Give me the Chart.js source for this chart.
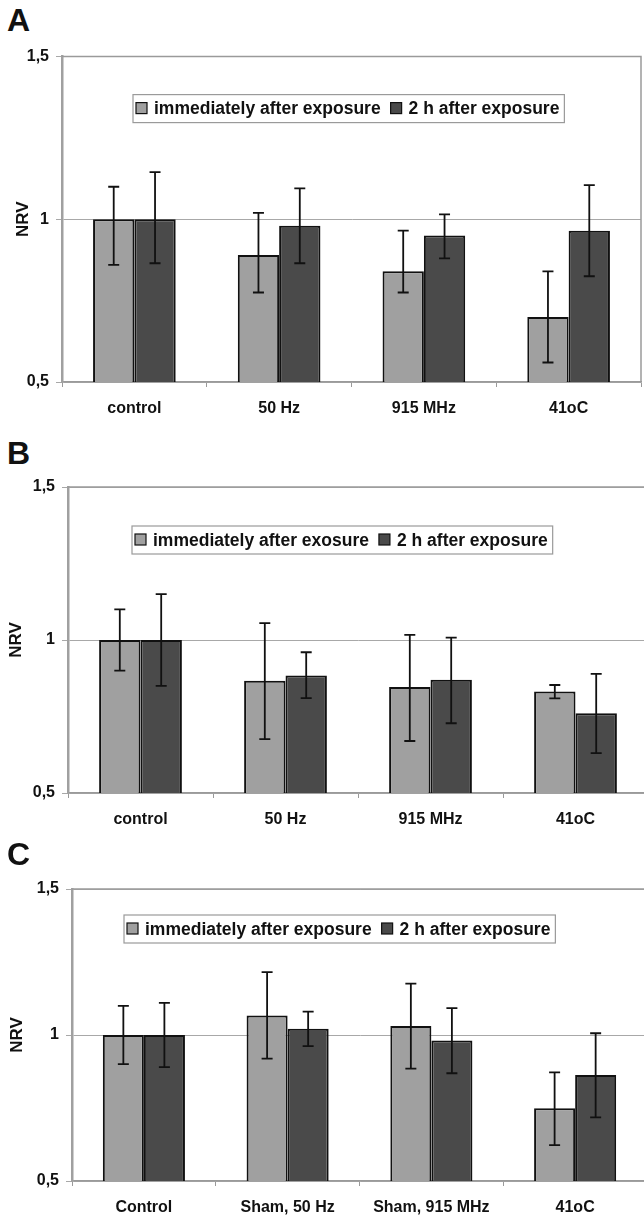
<!DOCTYPE html>
<html>
<head>
<meta charset="utf-8">
<script src="https://cdn.jsdelivr.net/npm/chart.js@4.4.1/dist/chart.umd.min.js"></script>
<style>
  html, body { margin: 0; padding: 0; background: #fff; width: 644px; height: 1216px; overflow: hidden; }
  .panel { position: absolute; left: 0; width: 650px; }
  .letter { position: absolute; left: 7px; font: bold 32px "Liberation Sans", Arial, sans-serif; line-height: 32px; color: #111; }
</style>
</head>
<body>
<div class="letter" style="top:4px">A</div>
<div class="panel" style="top:40px;height:380px"><canvas id="chartA" width="650" height="380"></canvas></div>
<div class="letter" style="top:437px">B</div>
<div class="panel" style="top:470px;height:370px"><canvas id="chartB" width="650" height="370"></canvas></div>
<div class="letter" style="top:838px">C</div>
<div class="panel" style="top:870px;height:346px"><canvas id="chartC" width="650" height="346"></canvas></div>

<script>
// categories
const categoriesAB = ['control', '50 Hz', '915 MHz', '41oC'];
const categoriesC = ['Control', 'Sham, 50 Hz', 'Sham, 915 MHz', '41oC'];
const seriesNames = ['immediately after exposure', '2 h after exposure'];
const seriesNamesB = ['immediately after exosure', '2 h after exposure'];
const yTicks = [0.5, 1, 1.5];
const yTickLabels = ['0,5', '1', '1,5'];

// panel A
const immA = [1.0, 0.89, 0.84, 0.70];
const immA_hi = [1.10, 1.02, 0.965, 0.84];
const immA_lo = [0.86, 0.775, 0.775, 0.56];
const lateA = [1.0, 0.98, 0.95, 0.965];
const lateA_hi = [1.145, 1.095, 1.015, 1.105];
const lateA_lo = [0.865, 0.865, 0.88, 0.825];

// panel B
const immB = [1.0, 0.867, 0.846, 0.832];
const immB_hi = [1.10, 1.055, 1.017, 0.853];
const immB_lo = [0.90, 0.676, 0.67, 0.809];
const lateB = [1.0, 0.884, 0.87, 0.761];
const lateB_hi = [1.15, 0.96, 1.008, 0.889];
const lateB_lo = [0.85, 0.81, 0.728, 0.63];

// panel C
const immC = [1.0, 1.067, 1.031, 0.749];
const immC_hi = [1.10, 1.215, 1.176, 0.872];
const immC_lo = [0.90, 0.919, 0.885, 0.623];
const lateC = [1.0, 1.021, 0.981, 0.863];
const lateC_hi = [1.11, 1.08, 1.092, 1.006];
const lateC_lo = [0.89, 0.962, 0.869, 0.718];

const FONT = '"Liberation Sans", Arial, sans-serif';
const LIGHT = '#a0a0a0';
const DARK = '#4a4a4a';

const errorBars = {
    id: 'errorBars',
    afterDatasetsDraw(chart) {
        const ctx = chart.ctx;
        const y = chart.scales.y;
        chart.data.datasets.forEach((ds, i) => {
            chart.getDatasetMeta(i).data.forEach((bar, j) => {
                const top = y.getPixelForValue(ds.errHigh[j]);
                const bot = y.getPixelForValue(ds.errLow[j]);
                ctx.save();
                ctx.strokeStyle = '#111';
                ctx.lineWidth = 1.8;
                ctx.beginPath();
                ctx.moveTo(bar.x, top); ctx.lineTo(bar.x, bot);
                ctx.moveTo(bar.x - 5.5, top); ctx.lineTo(bar.x + 5.5, top);
                ctx.moveTo(bar.x - 5.5, bot); ctx.lineTo(bar.x + 5.5, bot);
                ctx.stroke();
                ctx.restore();
            });
        });
    }
};

const plotFrame = {
    id: 'plotFrame',
    beforeDatasetsDraw(chart) {
        const {ctx, chartArea: a} = chart;
        ctx.save();
        ctx.strokeStyle = '#9a9a9a';
        ctx.lineWidth = 1.5;
        ctx.beginPath();
        ctx.moveTo(a.left, a.top); ctx.lineTo(a.right, a.top); ctx.lineTo(a.right, a.bottom);
        ctx.stroke();
        ctx.restore();
    }
};

const boxLegend = {
    id: 'boxLegend',
    afterDraw(chart, args, opts) {
        const {ctx, chartArea: a} = chart;
        ctx.save();
        ctx.font = 'bold 17.5px ' + FONT;
        const x0 = a.left + opts.dx, y0 = a.top + opts.dy, h = 28;
        const items = chart.data.datasets.map(ds => ({
            text: ds.label, color: ds.backgroundColor, w: ctx.measureText(ds.label).width
        }));
        let w = 3;
        items.forEach((it, k) => { w += 12 + 6 + it.w + (k < items.length - 1 ? 10 : 5); });
        ctx.fillStyle = '#fff';
        ctx.fillRect(x0, y0, w, h);
        ctx.strokeStyle = '#9a9a9a';
        ctx.lineWidth = 1.2;
        ctx.strokeRect(x0, y0, w, h);
        let x = x0 + 3;
        const cy = y0 + h / 2;
        items.forEach(it => {
            ctx.fillStyle = it.color;
            ctx.fillRect(x, cy - 6, 11, 11);
            ctx.strokeStyle = '#111';
            ctx.lineWidth = 1.2;
            ctx.strokeRect(x, cy - 6, 11, 11);
            x += 12 + 6;
            ctx.fillStyle = '#111';
            ctx.textBaseline = 'middle';
            ctx.fillText(it.text, x, cy + 1);
            x += it.w + 10;
        });
        ctx.restore();
    }
};

function makePanel(id, cats, names, imm, immHi, immLo, late, lateHi, lateLo, box) {
    new Chart(document.getElementById(id), {
        type: 'bar',
        data: {
            labels: cats,
            datasets: [
                { label: names[0], data: imm, errHigh: immHi, errLow: immLo, backgroundColor: LIGHT },
                { label: names[1], data: late, errHigh: lateHi, errLow: lateLo, backgroundColor: DARK }
            ]
        },
        options: {
            responsive: false,
            animation: false,
            layout: { padding: { top: box.top, right: box.right, bottom: 0, left: 0 } },
            datasets: {
                bar: {
                    categoryPercentage: 0.571,
                    barPercentage: 1.0,
                    borderColor: '#111',
                    borderWidth: 2,
                    borderSkipped: false
                }
            },
            plugins: {
                legend: { display: false },
                tooltip: { enabled: false },
                boxLegend: { dx: box.legendDx, dy: box.legendDy }
            },
            scales: {
                x: {
                    afterFit: s => { s.height = box.xHeight; },
                    grid: { drawOnChartArea: false, color: '#9a9a9a', tickLength: 5 },
                    border: { color: '#9a9a9a', width: 1.5 },
                    ticks: { color: '#111', padding: 12, font: { family: FONT, size: 16, weight: 'bold' }, maxRotation: 0, autoSkip: false }
                },
                y: {
                    min: 0.5,
                    max: 1.5,
                    afterFit: s => { s.width = box.left; },
                    afterBuildTicks: s => { s.ticks = yTicks.map(v => ({ value: v })); },
                    grid: { color: '#a8a8a8', lineWidth: 1, tickLength: 6 },
                    border: { color: '#a0a0a0', width: 2.5 },
                    ticks: {
                        color: '#111', padding: 7,
                        font: { family: FONT, size: 16, weight: 'bold' },
                        callback: (v, i) => yTickLabels[i]
                    },
                    title: {
                        display: true, text: 'NRV', color: '#111',
                        font: { family: FONT, size: 17, weight: 'bold' },
                        padding: { top: box.titlePad, bottom: 0 }
                    }
                }
            }
        },
        plugins: [plotFrame, errorBars, boxLegend]
    });
}

makePanel('chartA', categoriesAB, seriesNames, immA, immA_hi, immA_lo, lateA, lateA_hi, lateA_lo,
    { top: 15, right: 9, left: 62, xHeight: 38, legendDx: 71, legendDy: 38, titlePad: 13 });
makePanel('chartB', categoriesAB, seriesNamesB, immB, immB_hi, immB_lo, lateB, lateB_hi, lateB_lo,
    { top: 17, right: 2, left: 68, xHeight: 47, legendDx: 64, legendDy: 39, titlePad: 6 });
makePanel('chartC', categoriesC, seriesNames, immC, immC_hi, immC_lo, lateC, lateC_hi, lateC_lo,
    { top: 19, right: 3, left: 72, xHeight: 35, legendDx: 52, legendDy: 26, titlePad: 7 });
</script>
</body>
</html>
